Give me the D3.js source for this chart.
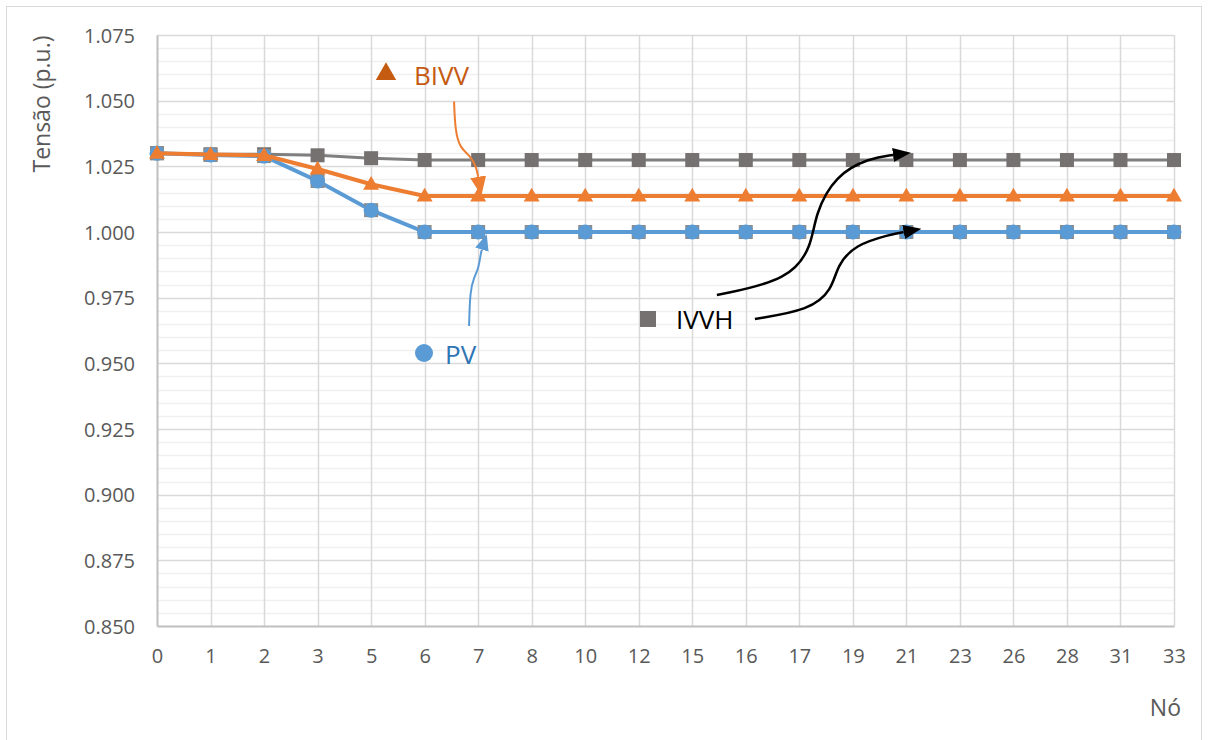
<!DOCTYPE html>
<html>
<head>
<meta charset="utf-8">
<script src="https://cdn.jsdelivr.net/npm/d3@7"></script>
<style>
  body { margin: 0; background: #fff; }
  svg { display: block; font-family: "Open Sans", sans-serif; }
</style>
</head>
<body>
<div id="chart-area"></div>
<script>
// node labels along the feeder
const nodes = ['0','1','2','3','5','6','7','8','10','12','15','16','17','19','21','23','26','28','31','33'];
const yTicks = [0.850, 0.875, 0.900, 0.925, 0.950, 0.975, 1.000, 1.025, 1.050, 1.075];

const ivvh = [1.0300, 1.0296, 1.0296, 1.0292, 1.0281, 1.0274, 1.0274, 1.0274, 1.0274, 1.0274,
              1.0274, 1.0274, 1.0274, 1.0274, 1.0274, 1.0274, 1.0274, 1.0274, 1.0274, 1.0274];
const bivv = [1.0300, 1.0295, 1.0292, 1.0240, 1.0182, 1.0137, 1.0137, 1.0137, 1.0137, 1.0137,
              1.0137, 1.0137, 1.0137, 1.0137, 1.0137, 1.0137, 1.0137, 1.0137, 1.0137, 1.0137];
const pv   = [1.0300, 1.0293, 1.0289, 1.0194, 1.0083, 1.0000, 1.0000, 1.0000, 1.0000, 1.0000,
              1.0000, 1.0000, 1.0000, 1.0000, 1.0000, 1.0000, 1.0000, 1.0000, 1.0000, 1.0000];

// annotation arrows, [node index, voltage]
const arrowBivv = [[5.55, 1.0497], [5.57, 1.0388], [5.66, 1.0319], [5.85, 1.0292], [5.97, 1.0245], [6.0, 1.0210]];
const arrowPv   = [[5.83, 0.9642], [5.85, 0.9779], [5.92, 0.9825], [6.01, 0.9863], [6.05, 0.9920], [6.07, 0.9933]];
const arrowIv1  = [[10.46, 0.9760], [11.83, 0.9817], [12.24, 0.9951], [12.29, 1.0065], [12.67, 1.0217], [13.32, 1.0282], [13.75, 1.0293]];
const arrowIv2  = [[11.17, 0.9669], [12.20, 0.9703], [12.61, 0.9779], [12.71, 0.9874], [13.04, 0.9951], [13.69, 0.9990], [13.95, 1.0000]];

const W = 1208, H = 740;
const plotLeft = 157, plotRight = 1174, plotTop = 35, plotBottom = 626;
const font = '"Open Sans", sans-serif';

const svg = d3.select('#chart-area').append('svg')
  .attr('width', W)
  .attr('height', H);

svg.append('rect')
  .attr('x', 6.5).attr('y', 6.5)
  .attr('width', 1195).attr('height', 760)
  .attr('fill', '#fff')
  .attr('stroke', '#d9d9d9');

const x = d3.scalePoint().domain(nodes).range([plotLeft, plotRight]);
const xi = d3.scaleLinear().domain([0, nodes.length - 1]).range([plotLeft, plotRight]);
const y = d3.scaleLinear().domain([0.85, 1.075]).range([plotBottom, plotTop]);

// minor grid
const minor = d3.range(0.855, 1.075, 0.005).filter(v => Math.abs((v - 0.85) / 0.025 - Math.round((v - 0.85) / 0.025)) > 0.01);
svg.append('g').selectAll('line').data(minor).join('line')
  .attr('x1', plotLeft).attr('x2', plotRight)
  .attr('y1', d => Math.round(y(d)) + 0.5).attr('y2', d => Math.round(y(d)) + 0.5)
  .attr('stroke', '#f0f0f0').attr('stroke-width', 1.5);

// major grid
svg.append('g').selectAll('line').data(yTicks.slice(1)).join('line')
  .attr('x1', plotLeft).attr('x2', plotRight)
  .attr('y1', d => Math.round(y(d)) + 0.5).attr('y2', d => Math.round(y(d)) + 0.5)
  .attr('stroke', '#d9d9d9').attr('stroke-width', 1.5);

svg.append('g').selectAll('line').data(nodes.slice(1)).join('line')
  .attr('x1', d => Math.round(x(d)) + 0.5).attr('x2', d => Math.round(x(d)) + 0.5)
  .attr('y1', plotTop).attr('y2', plotBottom)
  .attr('stroke', '#d9d9d9').attr('stroke-width', 1.5);

// axes
const yAxis = d3.axisLeft(y).tickValues(yTicks).tickFormat(d3.format('.3f')).tickSize(0).tickPadding(22);
svg.append('g')
  .attr('transform', `translate(${plotLeft},0)`)
  .call(yAxis)
  .attr('font-family', font)
  .call(g => g.select('.domain').attr('stroke', '#bfbfbf').attr('stroke-width', 2))
  .call(g => g.selectAll('text').attr('fill', '#595959').style('font-size', '20px').attr('dy', '0.35em'));

const xAxis = d3.axisBottom(x).tickSize(0).tickPadding(23);
svg.append('g')
  .attr('transform', `translate(0,${plotBottom})`)
  .call(xAxis)
  .attr('font-family', font)
  .call(g => g.select('.domain').attr('stroke', '#bfbfbf').attr('stroke-width', 2))
  .call(g => g.selectAll('text').attr('fill', '#595959').style('font-size', '20px'));

svg.append('text')
  .attr('transform', `translate(50,${(30 + 178) / 2}) rotate(-90)`)
  .attr('text-anchor', 'middle')
  .attr('fill', '#595959')
  .style('font-size', '23px')
  .text('Tensão (p.u.)');

svg.append('text')
  .attr('x', 1181).attr('y', 716)
  .attr('text-anchor', 'end')
  .attr('fill', '#595959')
  .style('font-size', '23px')
  .text('Nó');

// series
const line = d3.line().x((d, i) => x(nodes[i])).y(d => y(d));
const grey = '#767171', orange = '#ed7d31', blue = '#5b9bd5';

svg.append('path').datum(ivvh).attr('d', line)
  .attr('fill', 'none').attr('stroke', '#7f7f7f').attr('stroke-width', 3);
svg.append('g').selectAll('rect').data(ivvh).join('rect')
  .attr('x', (d, i) => x(nodes[i]) - 7).attr('y', d => y(d) - 7)
  .attr('width', 14).attr('height', 14).attr('fill', grey);

svg.append('path').datum(pv).attr('d', line)
  .attr('fill', 'none').attr('stroke', blue).attr('stroke-width', 4);
svg.append('g').selectAll('rect').data(pv).join('rect')
  .attr('x', (d, i) => x(nodes[i]) - 7).attr('y', d => y(d) - 7)
  .attr('width', 14).attr('height', 14).attr('fill', '#8c8c8c');
svg.append('g').selectAll('circle').data(pv).join('circle')
  .attr('cx', (d, i) => x(nodes[i])).attr('cy', d => y(d))
  .attr('r', 7.5).attr('fill', blue);

svg.append('path').datum(bivv).attr('d', line)
  .attr('fill', 'none').attr('stroke', orange).attr('stroke-width', 4);
const tri = d3.symbol().type(d3.symbolTriangle).size(110);
svg.append('g').selectAll('path').data(bivv).join('path')
  .attr('transform', (d, i) => `translate(${x(nodes[i])},${y(d) + 1})`)
  .attr('d', tri).attr('fill', orange);

// arrowheads
const defs = svg.append('defs');
function head(id, color, w, h) {
  defs.append('marker')
    .attr('id', id)
    .attr('viewBox', `0 0 ${w} ${h}`)
    .attr('refX', 0).attr('refY', h / 2)
    .attr('markerWidth', w).attr('markerHeight', h)
    .attr('markerUnits', 'userSpaceOnUse')
    .attr('orient', 'auto')
    .append('path')
    .attr('d', `M0,0L${w},${h / 2}L0,${h}Z`)
    .attr('fill', color);
}
head('hOrange', orange, 19, 16);
head('hBlue', blue, 16, 14);
head('hBlack', '#000', 18, 14);

const arrowLine = d3.line().x(d => xi(d[0])).y(d => y(d[1])).curve(d3.curveBasis);
function arrow(pts, color, id, w) {
  svg.append('path').datum(pts).attr('d', arrowLine)
    .attr('fill', 'none').attr('stroke', color).attr('stroke-width', w)
    .attr('marker-end', `url(#${id})`);
}
arrow(arrowBivv, orange, 'hOrange', 2);
arrow(arrowPv, blue, 'hBlue', 2);
arrow(arrowIv1, '#000', 'hBlack', 2.5);
arrow(arrowIv2, '#000', 'hBlack', 2.5);

// legend labels
svg.append('path')
  .attr('transform', 'translate(386,74)')
  .attr('d', d3.symbol().type(d3.symbolTriangle).size(180))
  .attr('fill', '#c55a11');
svg.append('text').attr('x', 414).attr('y', 85)
  .attr('fill', '#c55a11').style('font-size', '26px').text('BIVV');

svg.append('circle').attr('cx', 424).attr('cy', 353).attr('r', 9).attr('fill', blue);
svg.append('text').attr('x', 445).attr('y', 364)
  .attr('fill', '#2e75b6').style('font-size', '26px').text('PV');

svg.append('rect').attr('x', 640).attr('y', 311).attr('width', 16).attr('height', 16).attr('fill', grey);
svg.append('text').attr('x', 676).attr('y', 329)
  .attr('fill', '#000').style('font-size', '26px').text('IVVH');
</script>
</body>
</html>
